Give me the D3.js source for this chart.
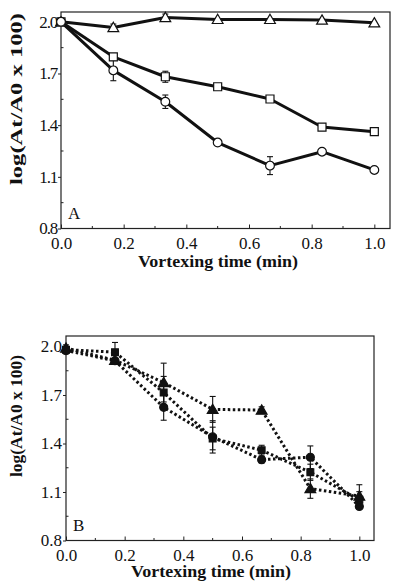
<!DOCTYPE html>
<html>
<head>
<meta charset="utf-8">
<script src="https://cdn.jsdelivr.net/npm/d3@7/dist/d3.min.js"></script>
<style>
  html, body { margin: 0; padding: 0; background: #fff; }
  svg { display: block; }
  svg text { font-family: "Liberation Serif", "Times New Roman", serif !important; fill: #111; }
</style>
</head>
<body>
<svg id="chart" width="400" height="588"></svg>
<script>
// ---- data ----
const timeMin = [0, 0.167, 0.333, 0.5, 0.667, 0.833, 1.0];
const xTickValues = [0, 0.2, 0.4, 0.6, 0.8, 1.0];
const xMinorTicks = [0.1, 0.3, 0.5, 0.7, 0.9];
const yTickValues = [0.8, 1.1, 1.4, 1.7, 2.0];
const yMinorTicks = [0.95, 1.25, 1.55, 1.85];

// Panel A (open symbols, solid lines)
const aTriangle    = [2.00, 1.967, 2.025, 2.014, 2.014, 2.010, 1.994];
const aTriangleErr = [0.00, 0.020, 0.020, 0.005, 0.005, 0.005, 0.005];
const aSquare      = [2.00, 1.797, 1.681, 1.623, 1.552, 1.389, 1.362];
const aSquareErr   = [0.00, 0.010, 0.032, 0.005, 0.005, 0.005, 0.005];
const aCircle      = [2.00, 1.718, 1.536, 1.299, 1.165, 1.246, 1.140];
const aCircleErr   = [0.00, 0.060, 0.039, 0.005, 0.052, 0.005, 0.005];

// Panel B (filled symbols, dotted lines)
const bTriangle    = [1.99, 1.915, 1.777, 1.611, 1.607, 1.121, 1.075];
const bTriangleErr = [0.02, 0.010, 0.120, 0.080, 0.020, 0.060, 0.070];
const bSquare      = [1.98, 1.965, 1.715, 1.431, 1.359, 1.222, 1.052];
const bSquareErr   = [0.02, 0.060, 0.100, 0.070, 0.030, 0.050, 0.050];
const bCircle      = [1.975, 1.912, 1.624, 1.441, 1.300, 1.315, 1.011];
const bCircleErr   = [0.02, 0.010, 0.080, 0.100, 0.020, 0.070, 0.010];

const svg = d3.select("#chart");
const SERIF = '"Liberation Serif", "Times New Roman", serif';

function drawPanel(cfg) {
  const g = svg.append("g");
  const x = d3.scaleLinear().domain([0, 1.05]).range([cfg.left, cfg.right]);
  const y = d3.scaleLinear().domain([0.8, cfg.yTop]).range([cfg.bottom, cfg.top]);

  // frame
  g.append("rect")
    .attr("x", cfg.left).attr("y", cfg.top)
    .attr("width", cfg.right - cfg.left).attr("height", cfg.bottom - cfg.top)
    .attr("fill", "none").attr("stroke", "#222").attr("stroke-width", 1.2);

  // x axis
  const xAxis = d3.axisBottom(x).tickValues(xTickValues).tickFormat(d3.format(".1f"))
    .tickSizeInner(-4).tickSizeOuter(0).tickPadding(8);
  const xg = g.append("g").attr("transform", `translate(0,${cfg.bottom})`).call(xAxis)
    .attr("font-family", SERIF).attr("font-size", 17);
  xg.select(".domain").remove();
  xg.selectAll("line").attr("stroke", "#222");
  xg.selectAll("text").attr("fill", "#111");
  g.selectAll(".xminor").data(xMinorTicks).join("line")
    .attr("x1", d => x(d)).attr("x2", d => x(d))
    .attr("y1", cfg.bottom).attr("y2", cfg.bottom - 2.5)
    .attr("stroke", "#222");

  // y axis
  const yAxis = d3.axisLeft(y).tickValues(yTickValues).tickFormat(d3.format(".1f"))
    .tickSizeInner(3).tickSizeOuter(0).tickPadding(1);
  const yg = g.append("g").attr("transform", `translate(${cfg.left},0)`).call(yAxis)
    .attr("font-family", SERIF).attr("font-size", 17);
  yg.select(".domain").remove();
  yg.selectAll("line").attr("stroke", "#222");
  yg.selectAll("text").attr("fill", "#111").attr("letter-spacing", cfg.yLetterSpacing);
  g.selectAll(".yminor").data(yMinorTicks).join("line")
    .attr("x1", cfg.left).attr("x2", cfg.left + 2.5)
    .attr("y1", d => y(d)).attr("y2", d => y(d))
    .attr("stroke", "#222");

  // titles
  g.append("text")
    .attr("x", cfg.xTitleX).attr("y", cfg.xTitleY)
    .attr("text-anchor", "middle").attr("font-size", 16).attr("font-weight", "bold")
    .attr("textLength", 160).attr("lengthAdjust", "spacingAndGlyphs")
    .text("Vortexing time (min)");
  g.append("text")
    .attr("transform", `translate(${cfg.yTitleX},${cfg.yTitleY}) rotate(-90)`)
    .attr("text-anchor", "middle").attr("font-size", 16).attr("font-weight", "bold")
    .attr("textLength", cfg.yTitleLen).attr("lengthAdjust", "spacingAndGlyphs")
    .text("log(At/A0 x 100)");

  // panel letter
  g.append("text")
    .attr("x", cfg.left + 7).attr("y", cfg.bottom - 10)
    .attr("font-size", 17).text(cfg.letter);

  const line = d3.line().x((d, i) => x(timeMin[i])).y(d => y(d));

  // lines
  cfg.series.forEach(s => {
    g.append("path").datum(s.values)
      .attr("d", line).attr("fill", "none")
      .attr("stroke", "#111").attr("stroke-width", cfg.lineWidth)
      .attr("stroke-dasharray", cfg.dash)
      .attr("stroke-linejoin", "round");
  });

  // error bars
  cfg.series.forEach(s => {
    s.values.forEach((v, i) => {
      const e = s.err[i];
      if (e < 0.008) return;
      const cx = x(timeMin[i]);
      g.append("line").attr("x1", cx).attr("x2", cx)
        .attr("y1", y(v - e)).attr("y2", y(v + e))
        .attr("stroke", "#111").attr("stroke-width", 1.1);
      [v - e, v + e].forEach(b => {
        g.append("line").attr("x1", cx - 3).attr("x2", cx + 3)
          .attr("y1", y(b)).attr("y2", y(b))
          .attr("stroke", "#111").attr("stroke-width", 1.1);
      });
    });
  });

  // markers
  const symSize = { circle: cfg.circleSize, square: cfg.squareSize, triangle: cfg.triSize };
  const symType = { circle: d3.symbolCircle, square: d3.symbolSquare, triangle: d3.symbolTriangle };
  cfg.series.forEach(s => {
    const sym = d3.symbol().type(symType[s.shape]).size(symSize[s.shape]);
    g.selectAll(null).data(s.values).join("path")
      .attr("d", sym)
      .attr("transform", (d, i) => `translate(${x(timeMin[i])},${y(d) + (s.shape === "triangle" ? 1 : 0)})`)
      .attr("fill", cfg.filled ? "#111" : "#fff")
      .attr("stroke", "#111").attr("stroke-width", 1.2);
  });
}

drawPanel({
  left: 61, right: 390, top: 12, bottom: 228.5, yTop: 2.057,
  xTitleX: 218, xTitleY: 267, yTitleX: 22, yTitleY: 99, yTitleLen: 172,
  letter: "A", filled: false, lineWidth: 3, dash: null, yLetterSpacing: -1.2,
  circleSize: 60, squareSize: 64, triSize: 50,
  series: [
    { values: aTriangle, err: aTriangleErr, shape: "triangle" },
    { values: aSquare, err: aSquareErr, shape: "square" },
    { values: aCircle, err: aCircleErr, shape: "circle" }
  ]
});

drawPanel({
  left: 66, right: 374, top: 336, bottom: 540.5, yTop: 2.065,
  xTitleX: 211, xTitleY: 577, yTitleX: 22, yTitleY: 416, yTitleLen: 122,
  letter: "B", filled: true, lineWidth: 3, dash: "2.5,2.5", yLetterSpacing: 0,
  circleSize: 50, squareSize: 46, triSize: 50,
  series: [
    { values: bTriangle, err: bTriangleErr, shape: "triangle" },
    { values: bSquare, err: bSquareErr, shape: "square" },
    { values: bCircle, err: bCircleErr, shape: "circle" }
  ]
});
</script>
</body>
</html>
